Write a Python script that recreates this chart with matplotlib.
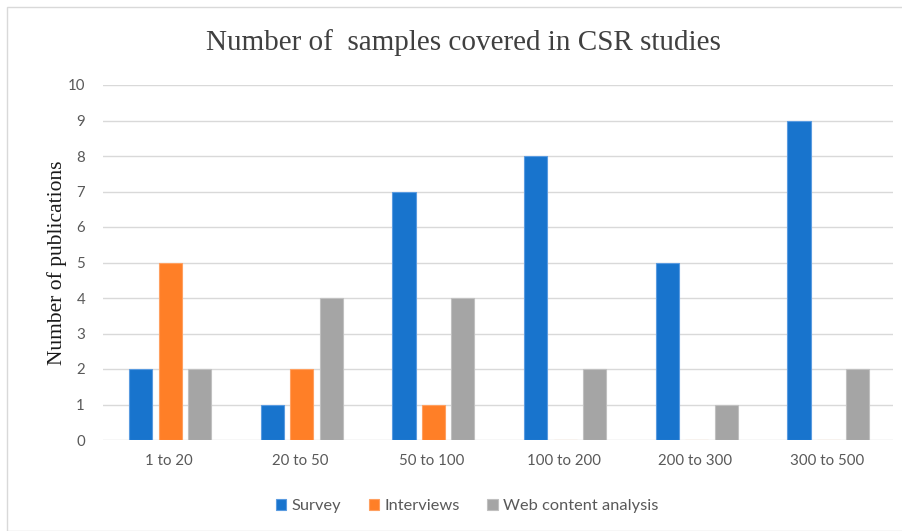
import matplotlib
matplotlib.use("Agg")
import matplotlib.pyplot as plt
from matplotlib.patches import Rectangle
import numpy as np

categories = ["1 to 20", "20 to 50", "50 to 100", "100 to 200", "200 to 300", "300 to 500"]
survey = [2, 1, 7, 8, 5, 9]
interviews = [5, 2, 1, 0, 0, 0]
web = [2, 4, 4, 2, 1, 2]
series_names = ["Survey", "Interviews", "Web content analysis"]
colors = ["#1874CD", "#FF7F27", "#A5A5A5"]
edges = ["#5A9BE0", "#FFA060", "#C0C0C0"]

fig = plt.figure(figsize=(9.03, 5.31), dpi=100)
fig.patches.append(Rectangle((7/903, 0), 1, 1 - 7/531, transform=fig.transFigure,
                             fill=False, edgecolor="#d9d9d9", linewidth=1))
ax = fig.add_axes([103/903, 91/531, 790/903, 355/531])

x = np.arange(len(categories))
w = 0.175
pitch = 0.224
for i, (vals, name) in enumerate(zip([survey, interviews, web], series_names)):
    ax.bar(x + (i - 1) * pitch + 0.01, vals, width=w, color=colors[i], edgecolor=edges[i],
           linewidth=0.8, label=name, zorder=3)

ax.set_xlim(-0.5, len(categories) - 0.5)
ax.set_ylim(0, 10)
ax.set_yticks(range(0, 11))
ax.set_xticks(x)
ax.set_xticklabels(categories)
ax.grid(axis="y", color="#d9d9d9", linewidth=1, zorder=0)
for s in ax.spines.values():
    s.set_visible(False)
ax.tick_params(axis="both", length=0, labelsize=10.8, labelcolor="#595959")
for lab in ax.get_xticklabels() + ax.get_yticklabels():
    lab.set_fontfamily("Lato")
ax.tick_params(axis="x", pad=10)
ax.tick_params(axis="y", pad=13)

ax.set_ylabel("Number of publications", fontfamily="Liberation Serif", fontsize=15.5,
              color="#1a1a1a", labelpad=0)
fig.text(463/903, 1 - 43/531, "Number of  samples covered in CSR studies",
         fontfamily="Liberation Serif", fontsize=21, color="#404040",
         ha="center", va="center")

leg = fig.legend(loc="center", bbox_to_anchor=(467/903, 1 - 506/531), ncol=3, frameon=False,
                 prop={"family": "Lato", "size": 11.8}, handlelength=0.65, handleheight=0.65,
                 columnspacing=1.7, handletextpad=0.3)
for t in leg.get_texts():
    t.set_color("#595959")

fig.savefig("out.png", dpi=100)
